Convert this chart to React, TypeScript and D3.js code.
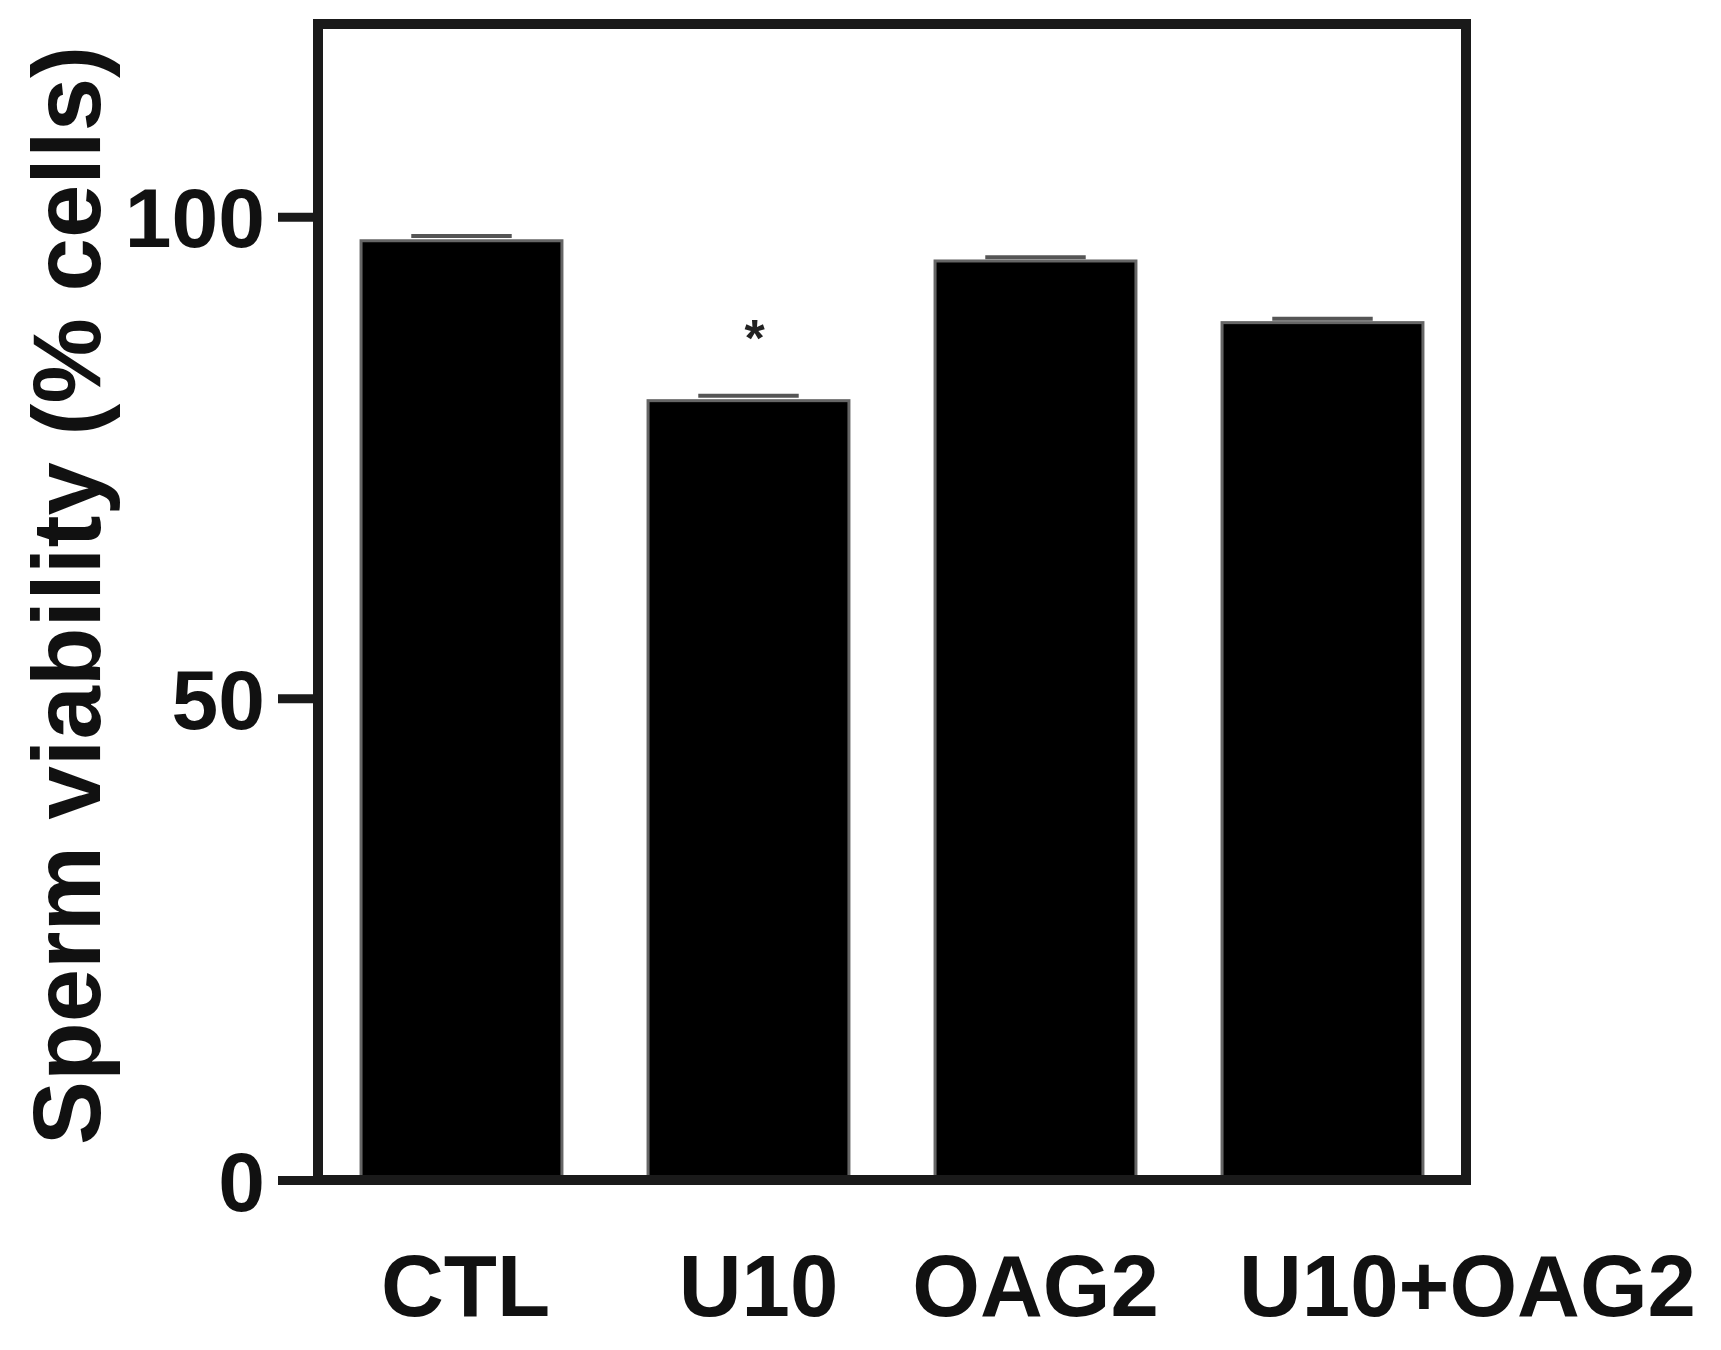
import React, { useEffect, useRef } from 'react';
import * as d3 from 'd3';

const categories = ['CTL', 'U10', 'OAG2', 'U10+OAG2'];
const viability = [97.5, 80.9, 95.4, 89.0];
const sem = [0.5, 0.5, 0.4, 0.4];
const significant = [false, true, false, false];
const yTicks = [0, 50, 100];

const W = 1721;
const H = 1350;
const FONT = "'Liberation Sans', Arial, Helvetica, sans-serif";

const App = () => {
    const ref = useRef<SVGSVGElement>(null);

    useEffect(() => {
        const svg = d3.select(ref.current);
        svg.selectAll('*').remove();

        const left = 318, right = 1466;
        const xScale = d3.scaleBand()
            .domain(categories)
            .range([left, right])
            .paddingInner(0.3)
            .paddingOuter(0.15);

        const yScale = d3.scaleLinear()
            .domain([0, 120])
            .range([1180, 24]);

        // bars
        svg.selectAll('.bar')
            .data(viability)
            .enter()
            .append('rect')
            .attr('class', 'bar')
            .attr('x', (d, i) => xScale(categories[i]) as number)
            .attr('y', d => yScale(d))
            .attr('width', xScale.bandwidth())
            .attr('height', d => yScale(0) - yScale(d))
            .attr('fill', '#000')
            .attr('stroke', '#666')
            .attr('stroke-width', 3);

        // error bars (upper only), small
        const capW = xScale.bandwidth() * 0.5;
        viability.forEach((d, i) => {
            const cx = (xScale(categories[i]) as number) + xScale.bandwidth() / 2;
            svg.append('line')
                .attr('x1', cx - capW / 2).attr('x2', cx + capW / 2)
                .attr('y1', yScale(d + sem[i])).attr('y2', yScale(d + sem[i]))
                .attr('stroke', '#555').attr('stroke-width', 4);
            if (significant[i]) {
                svg.append('text')
                    .attr('x', cx + 6)
                    .attr('y', yScale(d + sem[i]) - 40)
                    .attr('text-anchor', 'middle')
                    .attr('font-family', FONT)
                    .attr('font-size', 52)
                    .attr('font-weight', 'bold')
                    .attr('fill', '#222')
                    .text('*');
            }
        });

        // frame
        svg.append('rect')
            .attr('x', left)
            .attr('y', yScale(120))
            .attr('width', right - left)
            .attr('height', yScale(0) - yScale(120))
            .attr('fill', 'none')
            .attr('stroke', '#1a1a1a')
            .attr('stroke-width', 10);

        // y axis
        const yAxis = svg.append('g')
            .attr('transform', `translate(${left},0)`)
            .call(d3.axisLeft(yScale).tickValues(yTicks).tickSize(40).tickPadding(13).tickFormat(d3.format('d')));
        yAxis.select('.domain').remove();
        yAxis.selectAll('.tick line').attr('stroke', '#1a1a1a').attr('stroke-width', 9);
        yAxis.selectAll('.tick text')
            .attr('font-family', FONT)
            .attr('font-size', 84)
            .attr('font-weight', 'bold')
            .attr('fill', '#111')
            .attr('dy', '0.36em');

        // x labels (last one sits shifted to the right, as in the figure)
        const xAxis = svg.append('g')
            .attr('transform', `translate(0,${yScale(0)})`)
            .call(d3.axisBottom(xScale).tickSize(0).tickPadding(74));
        xAxis.select('.domain').remove();
        xAxis.selectAll('.tick text')
            .attr('font-family', FONT)
            .attr('font-size', 87)
            .attr('font-weight', 'bold')
            .attr('fill', '#111')
            .attr('dy', '0.71em')
            .attr('dx', (d, i) => (i === 0 ? 4 : i === 1 ? 10 : i === categories.length - 1 ? 145 : 0));

        // y axis title
        svg.append('text')
            .attr('transform', `translate(100,${(44 + 1147) / 2}) rotate(-90)`)
            .attr('text-anchor', 'middle')
            .attr('font-family', FONT)
            .attr('font-size', 96)
            .attr('font-weight', 'bold')
            .attr('fill', '#111')
            .text('Sperm viability (% cells)');
    }, []);

    return (
        <svg ref={ref} width={W} height={H}
            style={{ position: 'absolute', left: 0, top: 0, background: '#fff' }} />
    );
};

export default App;
